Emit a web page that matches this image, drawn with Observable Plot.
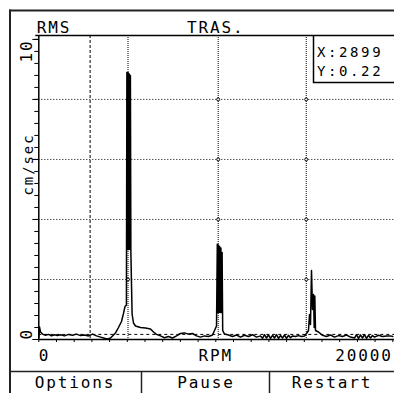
<!DOCTYPE html>
<html><head><meta charset="utf-8">
<script src="https://cdn.jsdelivr.net/npm/d3@7"></script>
<script src="https://cdn.jsdelivr.net/npm/@observablehq/plot@0.6"></script>
<style>
html,body{margin:0;padding:0;background:#fff;}
#wrap{position:relative;width:394px;height:393px;overflow:hidden;}
#chart,#chrome{position:absolute;left:0;top:0;}
#chrome text{font-family:'DejaVu Sans Mono',monospace;font-size:16px;letter-spacing:1.9px;fill:#000;}
#chrome text.cur{font-size:14px;letter-spacing:2.6px;}
</style></head><body>
<div id="wrap"><div id="chart"></div><svg id="chrome" width="394" height="393"></svg></div>
<script>
// Spectrum (RPM, cm/sec RMS)
const rpm = [0,40,96,209,379,548,718,887,1056,1226,1452,1678,1904,2130,2356,2582,2808,3034,3260,3486,3712,3881,4051,4220,4333,4503,4672,4785,4870,4950,
 4977,5011,5045,5079,5113,5147,5175,5203,5271,5350,5463,5746,6028,6311,6480,6650,6876,7102,7328,7554,7780,8006,8232,8458,8684,8910,9136,9362,9588,9814,9927,10040,
 10085,10119,10153,10186,10220,10254,10288,10322,10356,10390,10492,10718,10944,11170,11395,11621,11847,12073,12299,12525,12638,12751,12864,12977,13090,13203,13316,13429,13542,13655,13768,13881,13994,14107,14220,14333,14503,14672,14842,15011,
 15124,15237,15294,15350,15407,15463,15520,15559,15593,15633,15802,16028,16254,16480,16706,16932,17158,17384,17610,17836,17949,18062,18175,18288,18401,18514,18627,18740,18853,18966,19192,19418,19644,19870,20000];
const amp = [0.05,0.42,0.25,0.18,0.14,0.17,0.12,0.16,0.13,0.16,0.12,0.17,0.14,0.18,0.13,0.15,0.12,0.18,0.12,0.08,0.04,0.02,0.05,0.15,0.22,0.4,0.6,0.87,1.1,1.15,
 8.9,3.0,8.9,3.0,8.85,3.0,8.8,2.88,0.85,0.55,0.45,0.4,0.38,0.35,0.25,0.17,0.12,0.06,0.1,0.05,0.12,0.2,0.22,0.18,0.2,0.12,0.08,0.12,0.1,0.15,0.3,0.45,
 3.17,0.9,3.15,0.9,3.1,0.9,3.05,0.9,2.9,0.3,0.18,0.15,0.1,0.15,0.08,0.14,0.1,0.16,0.08,0.12,0.04,0.16,0.05,0.15,0.04,0.14,0.05,0.16,0.04,0.13,0.05,0.15,0.04,0.14,0.06,0.12,0.1,0.13,0.1,0.12,
 0.2,0.3,0.83,0.5,2.3,1.0,1.5,0.4,1.45,0.3,0.25,0.14,0.1,0.15,0.08,0.13,0.1,0.15,0.08,0.05,0.16,0.04,0.15,0.05,0.16,0.04,0.14,0.05,0.13,0.08,0.14,0.1,0.12,0.12,0.1];

const harmonics = [5040, 10135, 15110];
const gridY = [2, 4, 6, 8];
const yTicksMinor = [0,0.4,0.8,1.2,1.6,2,2.4,2.8,3.2,3.6,4,4.4,4.8,5.2,5.6,6,6.4,6.8,7.2,7.6,8,8.4,8.8,9.2,9.6,10];
const yTicksMajor = [0, 2, 4, 6, 8, 10];
const xTicks = [0,1000,2000,3000,4000,5000,6000,7000,8000,9000,10000,11000,12000,13000,14000,15000,16000,17000,18000,19000,20000];
const xMin = 0, xMax = 20000, yMin = 0, yMax = 10, yTop = 10.13;
const cursorX = 2899, cursorY = 0.22;
const refLevel = 0.17;
const headerLeft = "RMS", headerCenter = "TRAS.", xLabel = "RPM", yLabel = "cm/sec";
const buttons = ["Options", "Pause", "Restart"];

const spectrum = rpm.map((r, i) => ({rpm: r, amp: amp[i]}));
const crossings = harmonics.flatMap(h => gridY.map(g => ({x: h, y: g})));

const plot = Plot.plot({
  width: 394, height: 393,
  marginLeft: 38.3, marginRight: 1.7, marginTop: 35, marginBottom: 54,
  x: {domain: [xMin, xMax]},
  y: {domain: [yMin, yTop]},
  style: {fontFamily: "'DejaVu Sans Mono', monospace", fontSize: "16px", letterSpacing: "1.9px", color: "#000", background: "#fff"},
  marks: [
    Plot.ruleY(gridY, {stroke: "#000", strokeDasharray: "1,2", insetRight: -2}),
    Plot.ruleX(harmonics, {stroke: "#000", strokeDasharray: "1,1"}),
    Plot.ruleX([cursorX], {stroke: "#000", strokeDasharray: "3,2"}),
    Plot.ruleY([refLevel], {stroke: "#000", strokeDasharray: "3,3", insetRight: -2}),
    Plot.dot(crossings, {x: "x", y: "y", r: 1.5, stroke: "#000", fill: "#fff", strokeWidth: 1}),
    Plot.line(spectrum, {x: "rpm", y: "amp", stroke: "#000", strokeWidth: 1.5}),
    Plot.ruleY([yMin], {stroke: "#000", strokeWidth: 1.5, insetRight: -2}),
    Plot.ruleX([xMin], {stroke: "#000", strokeWidth: 1.5}),
    Plot.ruleY([yTop], {stroke: "#000", strokeWidth: 1.5, insetLeft: -3, insetRight: -2}),
    Plot.axisY(yTicksMinor, {tickSize: 4, tickFormat: () => "", label: null}),
    Plot.axisY(yTicksMajor, {tickSize: 6, tickFormat: () => "", label: null}),
    Plot.axisX(xTicks, {tickSize: 3, tickFormat: () => "", label: null}),
    Plot.text([headerLeft], {frameAnchor: "top-left", textAnchor: "start", lineAnchor: "bottom", dx: -2, dy: -3}),
    Plot.text([headerCenter], {frameAnchor: "top", lineAnchor: "bottom", dy: -3}),
    Plot.text([xMin], {x: d => d, text: d => `${d}`, frameAnchor: "bottom", textAnchor: "start", lineAnchor: "bottom", dy: 21}),
    Plot.text([xMax], {x: d => d, text: d => `${d}`, frameAnchor: "bottom", textAnchor: "end", lineAnchor: "bottom", dy: 21}),
    Plot.text([xLabel], {frameAnchor: "bottom", lineAnchor: "bottom", dy: 21}),
    Plot.text([yMax], {y: d => d, text: d => `${d}`, frameAnchor: "left", rotate: -90, textAnchor: "end", lineAnchor: "bottom", dx: -7.3}),
    Plot.text([yMin], {y: d => d, text: d => `${d}`, frameAnchor: "left", rotate: -90, textAnchor: "start", lineAnchor: "bottom", dx: -7.3}),
    Plot.text([yLabel], {frameAnchor: "left", rotate: -90, lineAnchor: "bottom", dx: -6.3, dy: 8, fontSize: 14})
  ]
});
document.getElementById("chart").append(plot);

// Instrument chrome (frame, cursor readout, soft-key bar)
const chrome = d3.select("#chrome");
const ln = (x1, y1, x2, y2, w) => chrome.append("line").attr("x1", x1).attr("y1", y1).attr("x2", x2).attr("y2", y2)
  .attr("stroke", "#222").attr("stroke-width", w);
ln(10, 9.5, 10, 393, 2);
ln(9, 10.5, 394, 10.5, 2);
ln(9, 371.5, 394, 371.5, 1.5);
ln(141.5, 371, 141.5, 393, 1.5);
ln(269.5, 371, 269.5, 393, 1.5);
chrome.append("path").attr("d", "M313.5,35V82.5H394").attr("fill", "none").attr("stroke", "#000").attr("stroke-width", 1.5);
chrome.append("text").attr("class", "cur").attr("x", 317).attr("y", 57).text(`X:${cursorX}`);
chrome.append("text").attr("class", "cur").attr("x", 317).attr("y", 76).text(`Y:${cursorY.toFixed(2)}`);
const centers = [75, 206, 332];
buttons.forEach((b, i) => chrome.append("text").attr("x", centers[i]).attr("y", 388).attr("text-anchor", "middle").text(b));
</script>
</body></html>
